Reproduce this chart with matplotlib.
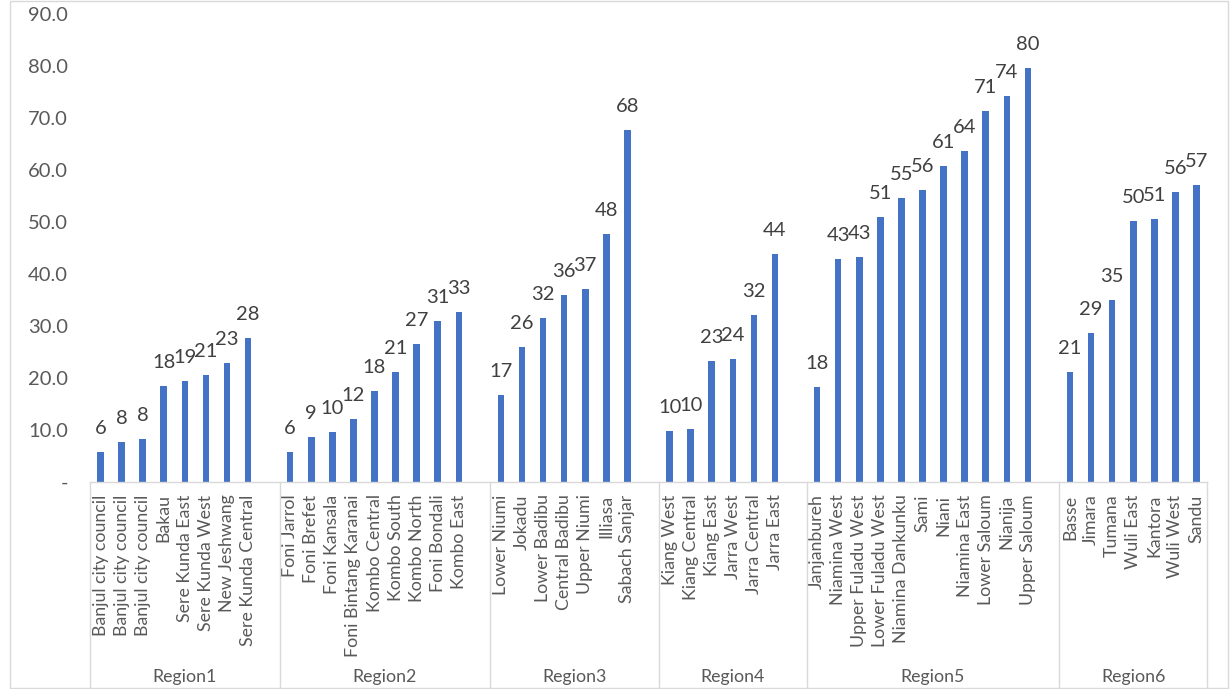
import matplotlib.pyplot as plt
import matplotlib.transforms as mtransforms
from matplotlib.patches import Rectangle

plt.rcParams['font.family'] = ['Lato', 'DejaVu Sans']

regions = ["Region1", "Region2", "Region3", "Region4", "Region5", "Region6"]

region1_names = ["Banjul city council", "Banjul city council", "Banjul city council", "Bakau",
                 "Sere Kunda East", "Sere Kunda West", "New Jeshwang", "Sere Kunda Central"]
region1_values = [5.8, 7.7, 8.2, 18.4, 19.4, 20.6, 22.9, 27.6]

region2_names = ["Foni Jarrol", "Foni Brefet", "Foni Kansala", "Foni Bintang Karanai",
                 "Kombo Central", "Kombo South", "Kombo North", "Foni Bondali", "Kombo East"]
region2_values = [5.8, 8.7, 9.6, 12.2, 17.5, 21.2, 26.6, 31.0, 32.6]

region3_names = ["Lower Niumi", "Jokadu", "Lower Badibu", "Central Badibu", "Upper Niumi",
                 "Illiasa", "Sabach Sanjar"]
region3_values = [16.7, 26.0, 31.5, 36.0, 37.1, 47.6, 67.6]

region4_names = ["Kiang West", "Kiang Central", "Kiang East", "Jarra West", "Jarra Central",
                 "Jarra East"]
region4_values = [9.8, 10.1, 23.3, 23.7, 32.2, 43.8]

region5_names = ["Janjanbureh", "Niamina West", "Upper Fuladu West", "Lower Fuladu West",
                 "Niamina Dankunku", "Sami", "Niani", "Niamina East", "Lower Saloum",
                 "Nianija", "Upper Saloum"]
region5_values = [18.3, 42.9, 43.2, 51.0, 54.6, 56.1, 60.8, 63.7, 71.3, 74.2, 79.6]

region6_names = ["Basse", "Jimara", "Tumana", "Wuli East", "Kantora", "Wuli West", "Sandu"]
region6_values = [21.1, 28.6, 35.0, 50.2, 50.6, 55.8, 57.1]

groups = [
    (region1_names, region1_values),
    (region2_names, region2_values),
    (region3_names, region3_values),
    (region4_names, region4_values),
    (region5_names, region5_values),
    (region6_names, region6_values),
]

# lay out the districts, leaving one empty slot after every region but the last
xs, vals, names, bounds, centers = [], [], [], [-0.5], []
pos = 0
for i, (nm, vl) in enumerate(groups):
    start = pos
    for n, v in zip(nm, vl):
        xs.append(pos)
        vals.append(v)
        names.append(n)
        pos += 1
    if i < len(groups) - 1:
        pos += 1
    bounds.append(pos - 0.5)
    centers.append((start - 0.5 + pos - 0.5) / 2)

W, H = 1231, 689
fig = plt.figure(figsize=(W / 100, H / 100), dpi=100)
ax = fig.add_axes([90 / W, (H - 482) / H, (1207 - 90) / W, (482 - 14) / H])

bar_color = "#4472C4"
grey_line = "#D9D9D9"
text_col = "#595959"

ax.bar(xs, vals, width=0.31, color=bar_color)
for x, v in zip(xs, vals):
    ax.annotate(f"{v:.0f}", (x, v), xytext=(0, 13), textcoords="offset points",
                ha="center", va="baseline", fontsize=14.5, color="#404040")

ax.set_xlim(-0.5, pos - 0.5)
ax.set_ylim(0, 90)
ax.set_yticks(range(0, 91, 10))
ax.set_yticklabels(["-"] + [f"{t:.1f}" for t in range(10, 91, 10)])
ax.tick_params(axis="y", length=0, pad=16, labelsize=14.5, labelcolor=text_col)

ax.set_xticks(xs)
ax.set_xticklabels(names, rotation=90, va="top", ha="center")
ax.tick_params(axis="x", length=0, pad=9, labelsize=12.8, labelcolor=text_col)

for s in ["top", "right", "left"]:
    ax.spines[s].set_visible(False)
ax.spines["bottom"].set_color(grey_line)
ax.spines["bottom"].set_linewidth(1)

# region boxes under the category axis
trans = mtransforms.blended_transform_factory(ax.transData, fig.transFigure)
for b in bounds:
    ax.plot([b, b], [(H - 482) / H, 1.5 / H], color=grey_line, lw=1,
            transform=trans, clip_on=False)
for c, r in zip(centers, regions):
    ax.text(c, (H - 677) / H, r, transform=trans, ha="center", va="center",
            fontsize=12.8, color=text_col)

# outer chart border
fig.patches.append(Rectangle((10 / W, 1 / H), (1228 - 10) / W, (688 - 1) / H,
                             transform=fig.transFigure, fill=False,
                             edgecolor=grey_line, lw=1))

fig.savefig("out.png", dpi=100)
